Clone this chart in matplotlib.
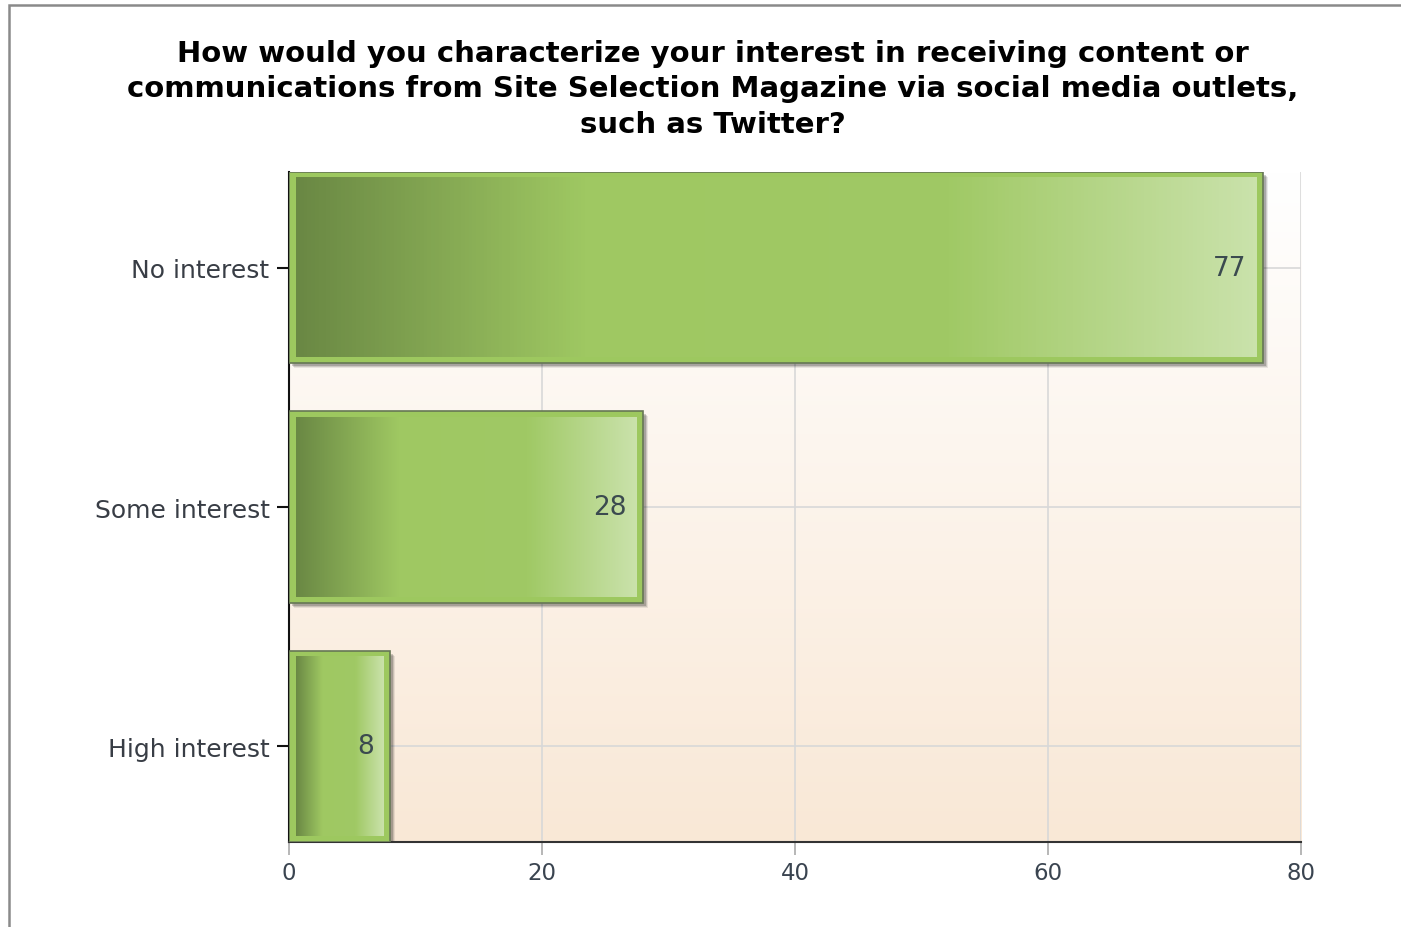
import numpy as np
import matplotlib
matplotlib.use("Agg")
from matplotlib import pyplot as plt
from matplotlib.colors import LinearSegmentedColormap
from matplotlib.patches import Rectangle

categories = ["No interest", "Some interest", "High interest"]
counts = [77, 28, 8]
x_ticks = [0, 20, 40, 60, 80]
title = ("How would you characterize your interest in receiving content or\n"
         "communications from Site Selection Magazine via social media outlets,\n"
         "such as Twitter?")

W, H = 1401, 928
plt.rcParams['font.family'] = ['DejaVu Sans']

fig = plt.figure(figsize=(W / 100, H / 100), dpi=100)
fig.patch.set_facecolor("white")

# plot area in pixels
px_l, px_r, px_t, px_b = 289, 1301, 173, 843
ax = fig.add_axes([px_l / W, 1 - px_b / H, (px_r - px_l) / W, (px_b - px_t) / H])

ppx = (px_r - px_l) / 80.0          # pixels per x unit
ppy = (px_b - px_t) / 2.8           # pixels per y unit

# background gradient
bg = LinearSegmentedColormap.from_list("bg", ["#ffffff", "#f9e8d6"])
ax.imshow(np.linspace(0, 1, 256).reshape(-1, 1), cmap=bg, aspect="auto",
          extent=[0, 80, 2.4, -0.4], zorder=0)

ax.set_xticks(x_ticks)
ax.set_yticks(range(len(categories)))
ax.set_yticklabels(categories)
ax.grid(True, color="#d8d8d8", linewidth=1.2, zorder=1)
ax.set_axisbelow(True)
for s in ["top", "right"]:
    ax.spines[s].set_visible(False)
ax.spines["left"].set_color("#111111")
ax.spines["left"].set_linewidth(1.5)
ax.spines["bottom"].set_color("#333333")
ax.spines["bottom"].set_linewidth(1.5)
ax.tick_params(axis="y", length=9, width=1.5, color="#111111", pad=5,
               labelsize=18, labelcolor="#383d45")
ax.tick_params(axis="x", length=9, width=1.2, color="#aaaaaa", pad=5,
               labelsize=16.5, labelcolor="#3a4450")

bar_cmap = LinearSegmentedColormap.from_list(
    "bar", [(0.0, "#6a8844"), (0.3, "#9fc862"), (0.68, "#a0c965"), (1.0, "#cae2ab")])
grad = np.linspace(0, 1, 256).reshape(1, -1)

h = 0.8
for i, v in enumerate(counts):
    y0 = i - h / 2
    # shadow
    for k, a in [(5, 0.08), (4, 0.12), (3, 0.18)]:
        ax.add_patch(Rectangle((k / ppx, y0 + k / ppy), v, h, facecolor="black",
                               alpha=a, edgecolor="none", zorder=2))
    # outer frame
    ax.add_patch(Rectangle((0, y0), v, h, facecolor="#9dc85f",
                           edgecolor="#667755", linewidth=1.2, zorder=3))
    # inner gradient
    ix, iy = 7 / ppx, 6 / ppy
    ax.imshow(grad, cmap=bar_cmap, aspect="auto",
              extent=[ix, v - ix, y0 + h - iy, y0 + iy], zorder=4)
    ax.annotate(str(v), xy=(v, i), xytext=(-12, 0), textcoords="offset points",
                ha="right", va="center", fontsize=19, color="#3b4a4f", zorder=5)

ax.set_xlim(0, 80)
ax.set_ylim(2.4, -0.4)

fig.text(713 / W, 1 - 40 / H, title, ha="center", va="top", fontsize=21,
         fontweight="bold", color="black", linespacing=1.34)

# outer frame of the picture
fig.patches.append(Rectangle((8.5 / W, -0.1), 1.2, 1 - 5.5 / H + 0.1,
                             transform=fig.transFigure, fill=False,
                             edgecolor="#8a8a8a", linewidth=1.8))

fig.savefig("out.png", dpi=100, facecolor="white")
